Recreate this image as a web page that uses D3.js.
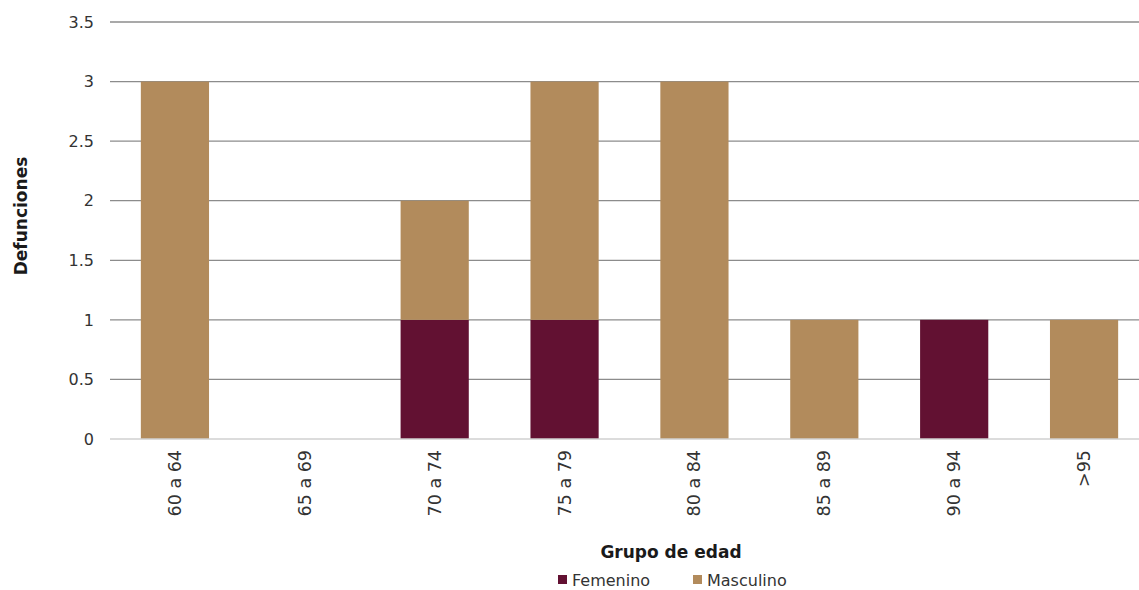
<!DOCTYPE html>
<html>
<head>
<meta charset="utf-8">
<script src="https://cdn.jsdelivr.net/npm/d3@7"></script>
<style>
  body { margin: 0; background: #fff; }
  svg { display: block; font-family: "DejaVu Sans", "Open Sans", sans-serif; }
</style>
</head>
<body>
<svg id="chart" width="1139" height="590"></svg>
<script>
const categories = ["60 a 64", "65 a 69", "70 a 74", "75 a 79", "80 a 84", "85 a 89", "90 a 94", ">95"];
const femenino  = [0, 0, 1, 1, 0, 0, 1, 0];
const masculino = [3, 0, 1, 2, 3, 1, 0, 1];
const seriesNames = ["Femenino", "Masculino"];
const seriesColors = ["#621132", "#B28B5C"];
const yTicks = [0, 0.5, 1, 1.5, 2, 2.5, 3, 3.5];

const svg = d3.select("#chart");
const W = 1139, H = 590;
const plotLeft = 110, plotBottom = 439, plotTop = 22;

const x = d3.scaleBand().domain(categories).range([plotLeft, 1149]).paddingInner(0.475).paddingOuter(0.2375);
const y = d3.scaleLinear().domain([0, 3.5]).range([plotBottom, plotTop]);

// gridlines
svg.append("g").selectAll("line").data(yTicks.filter(d => d > 0)).join("line")
  .attr("x1", plotLeft).attr("x2", W)
  .attr("y1", d => y(d)).attr("y2", d => y(d))
  .attr("stroke", "#8c8c8c").attr("stroke-width", 1.3);

// stacked bars
const rows = categories.map((c, i) => ({ cat: c, Femenino: femenino[i], Masculino: masculino[i] }));
const stack = d3.stack().keys(seriesNames)(rows);
svg.append("g").selectAll("g").data(stack).join("g")
  .attr("fill", (d, i) => seriesColors[i])
  .selectAll("rect").data(d => d.filter(p => p[1] - p[0] > 0)).join("rect")
  .attr("x", d => x(d.data.cat)).attr("width", x.bandwidth())
  .attr("y", d => y(d[1])).attr("height", d => y(d[0]) - y(d[1]));

// baseline
svg.append("line")
  .attr("x1", plotLeft).attr("x2", W)
  .attr("y1", y(0)).attr("y2", y(0))
  .attr("stroke", "#d0d0d0").attr("stroke-width", 1.3);

// y axis labels
svg.append("g").selectAll("text").data(yTicks).join("text")
  .attr("x", 94).attr("y", d => y(d)).attr("dy", "0.36em")
  .attr("text-anchor", "end").attr("font-size", 16).attr("fill", "#333")
  .text(d => d);

// x axis labels
svg.append("g").selectAll("text").data(categories).join("text")
  .attr("transform", d => `translate(${x(d) + x.bandwidth() / 2 + 6},450) rotate(-90)`)
  .attr("text-anchor", "end").attr("font-size", 17.5).attr("fill", "#333")
  .text(d => d);

// axis titles
svg.append("text")
  .attr("transform", `translate(27,216) rotate(-90)`)
  .attr("text-anchor", "middle").attr("font-size", 17).attr("font-weight", "bold").attr("fill", "#1a1a1a")
  .text("Defunciones");
svg.append("text")
  .attr("x", 671).attr("y", 558)
  .attr("text-anchor", "middle").attr("font-size", 17).attr("font-weight", "bold").attr("fill", "#1a1a1a")
  .text("Grupo de edad");

// legend
const legendX = [558, 693];
const lg = svg.append("g").selectAll("g").data(seriesNames).join("g")
  .attr("transform", (d, i) => `translate(${legendX[i]},580)`);
lg.append("rect").attr("x", 0).attr("y", -5).attr("width", 9).attr("height", 9)
  .attr("fill", (d, i) => seriesColors[i]);
lg.append("text").attr("x", 14).attr("y", 0).attr("dy", "0.36em")
  .attr("font-size", 16).attr("fill", "#333").text(d => d);
</script>
</body>
</html>
